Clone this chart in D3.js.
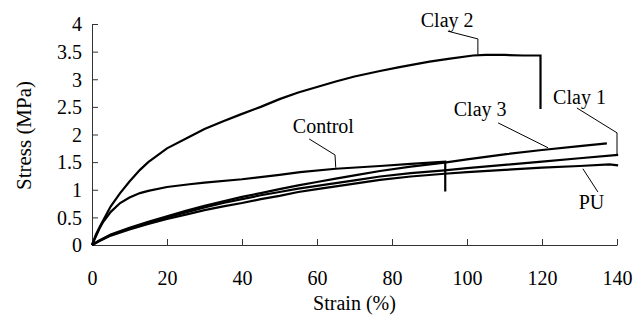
<!DOCTYPE html>
<html><head><meta charset="utf-8"><script src="https://cdn.jsdelivr.net/npm/d3@7"></script></head>
<body style="margin:0">
<svg id="c" width="637" height="325"></svg>
<script>
// ---- data (strain %, stress MPa) ----
const xTicks = [0, 20, 40, 60, 80, 100, 120, 140];
const yTicks = [0, 0.5, 1, 1.5, 2, 2.5, 3, 3.5, 4];
const yTickLabels = ["0", "0.5", "1", "1.5", "2", "2.5", "3", "3.5", "4"];

const clay2Strain = [0, 1, 2, 3, 5, 7.5, 10, 12.8, 15, 20, 26, 30, 35, 39.5, 45, 50, 55, 60, 65, 70, 76.8, 82, 90, 95, 101.6, 105, 110, 115, 119.6, 119.6];
const clay2Stress = [0, 0.18, 0.32, 0.45, 0.7, 0.94, 1.15, 1.36, 1.5, 1.75, 1.96, 2.1, 2.24, 2.36, 2.5, 2.64, 2.76, 2.86, 2.96, 3.05, 3.15, 3.22, 3.32, 3.37, 3.43, 3.44, 3.44, 3.43, 3.43, 2.46];

const controlStrain = [0, 1, 2, 3, 5, 7.5, 10, 12.8, 15, 20, 26, 30, 40, 50, 55.5, 65, 76.8, 85, 94.2, 94.2];
const controlStress = [0, 0.15, 0.3, 0.42, 0.6, 0.76, 0.86, 0.94, 0.98, 1.05, 1.1, 1.13, 1.19, 1.27, 1.32, 1.38, 1.43, 1.47, 1.51, 0.97];

const clay3Strain = [0, 2, 5, 10, 15, 20, 25, 30, 35, 40, 45, 50, 55, 60, 65, 70, 76.8, 85, 94, 100, 110, 120, 130, 137.3];
const clay3Stress = [0, 0.08, 0.19, 0.31, 0.42, 0.52, 0.62, 0.71, 0.79, 0.87, 0.94, 1.01, 1.08, 1.14, 1.2, 1.26, 1.34, 1.42, 1.49, 1.55, 1.64, 1.72, 1.79, 1.84];

const clay1Strain = [0, 2, 5, 10, 15, 20, 25, 30, 35, 40, 45, 50, 55, 60, 65, 70, 76.8, 85, 94, 100, 110, 120, 130, 140.3];
const clay1Stress = [0, 0.08, 0.18, 0.3, 0.4, 0.5, 0.59, 0.68, 0.76, 0.83, 0.9, 0.96, 1.02, 1.07, 1.12, 1.17, 1.24, 1.3, 1.35, 1.39, 1.45, 1.51, 1.57, 1.63];

const puStrain = [0, 2, 5, 10, 15, 20, 25, 30, 35, 40, 45, 50, 55, 60, 65, 70, 76.8, 85, 94, 100, 110, 120, 130, 138, 140.3];
const puStress = [0, 0.07, 0.17, 0.28, 0.38, 0.47, 0.55, 0.63, 0.7, 0.76, 0.83, 0.89, 0.96, 1.01, 1.06, 1.11, 1.18, 1.24, 1.29, 1.32, 1.36, 1.4, 1.43, 1.46, 1.44];

// annotations: label, text anchor point, leader polyline (data units)
const labelNames = ["Clay 2", "Clay 1", "Clay 3", "Control", "PU"];
const labelStrain = [94.7, 130, 103.5, 61.7, 133.2];
const labelStress = [3.95, 2.55, 2.33, 2.03, 0.65];
const leaderStrain = [[94.9, 102.9, 102.9], [129.3, 140, 140], [108.3, 121.6], [57.9, 64.8, 65.0], [134.9, 130.9]];
const leaderStress = [[3.87, 3.73, 3.45], [2.48, 2.03, 1.64], [2.21, 1.76], [1.92, 1.63, 1.40], [0.96, 1.38]];

const series = [
  { name: "Clay 2", xs: clay2Strain, ys: clay2Stress },
  { name: "Control", xs: controlStrain, ys: controlStress },
  { name: "Clay 3", xs: clay3Strain, ys: clay3Stress },
  { name: "Clay 1", xs: clay1Strain, ys: clay1Stress },
  { name: "PU", xs: puStrain, ys: puStress }
];

// ---- layout ----
const svg = d3.select("#c");
const x = d3.scaleLinear().domain([0, 140]).range([92, 617]);
const y = d3.scaleLinear().domain([0, 4]).range([245, 24]);

function serif(sel, size) {
  sel.attr("font-family", "Liberation Serif").attr("font-size", size)
    .style("font-family", "Liberation Serif", "important")
    .style("font-size", size + "px", "important");
  return sel;
}

// axes
const xAxis = svg.append("g").attr("transform", `translate(0,${y(0)})`)
  .call(d3.axisBottom(x).tickValues(xTicks).tickSizeInner(-6).tickSizeOuter(0).tickPadding(0).tickFormat(d3.format("d")));
xAxis.select(".domain").attr("stroke", "#333").attr("stroke-width", 1);
xAxis.selectAll(".tick line").attr("stroke", "#333");
serif(xAxis, 20);
serif(xAxis.selectAll(".tick text").attr("y", 40).attr("dy", 0).attr("fill", "#000"), 20);

const yAxis = svg.append("g").attr("transform", `translate(${x(0)},0)`)
  .call(d3.axisLeft(y).tickValues(yTicks).tickSizeInner(-6).tickSizeOuter(0).tickPadding(10)
    .tickFormat((d, i) => yTickLabels[i]));
yAxis.select(".domain").attr("stroke", "#333").attr("stroke-width", 1);
yAxis.selectAll(".tick line").attr("stroke", "#333");
serif(yAxis, 20);
serif(yAxis.selectAll(".tick text").attr("dy", "0.34em").attr("fill", "#000"), 20);

// axis titles
serif(svg.append("text").attr("x", (x(0) + x(140)) / 2).attr("y", 310)
  .attr("text-anchor", "middle").text("Strain (%)"), 20);
serif(svg.append("text").attr("transform", `translate(31,${(y(0) + y(4)) / 2 + 1}) rotate(-90)`)
  .attr("text-anchor", "middle").text("Stress (MPa)"), 21);

// curves
const line = d3.line().x(d => x(d[0])).y(d => y(d[1]));
svg.append("g").selectAll("path").data(series).join("path")
  .attr("d", s => line(s.xs.map((v, i) => [v, s.ys[i]])))
  .attr("fill", "none").attr("stroke", "#000").attr("stroke-width", 2.2)
  .attr("stroke-linejoin", "miter");

// leaders + labels
labelNames.forEach((name, i) => {
  svg.append("path")
    .attr("d", line(leaderStrain[i].map((v, j) => [v, leaderStress[i][j]])))
    .attr("fill", "none").attr("stroke", "#000").attr("stroke-width", 1);
  serif(svg.append("text").attr("x", x(labelStrain[i])).attr("y", y(labelStress[i]))
    .attr("text-anchor", "middle").text(name), 20);
});
</script>
</body>
</html>
